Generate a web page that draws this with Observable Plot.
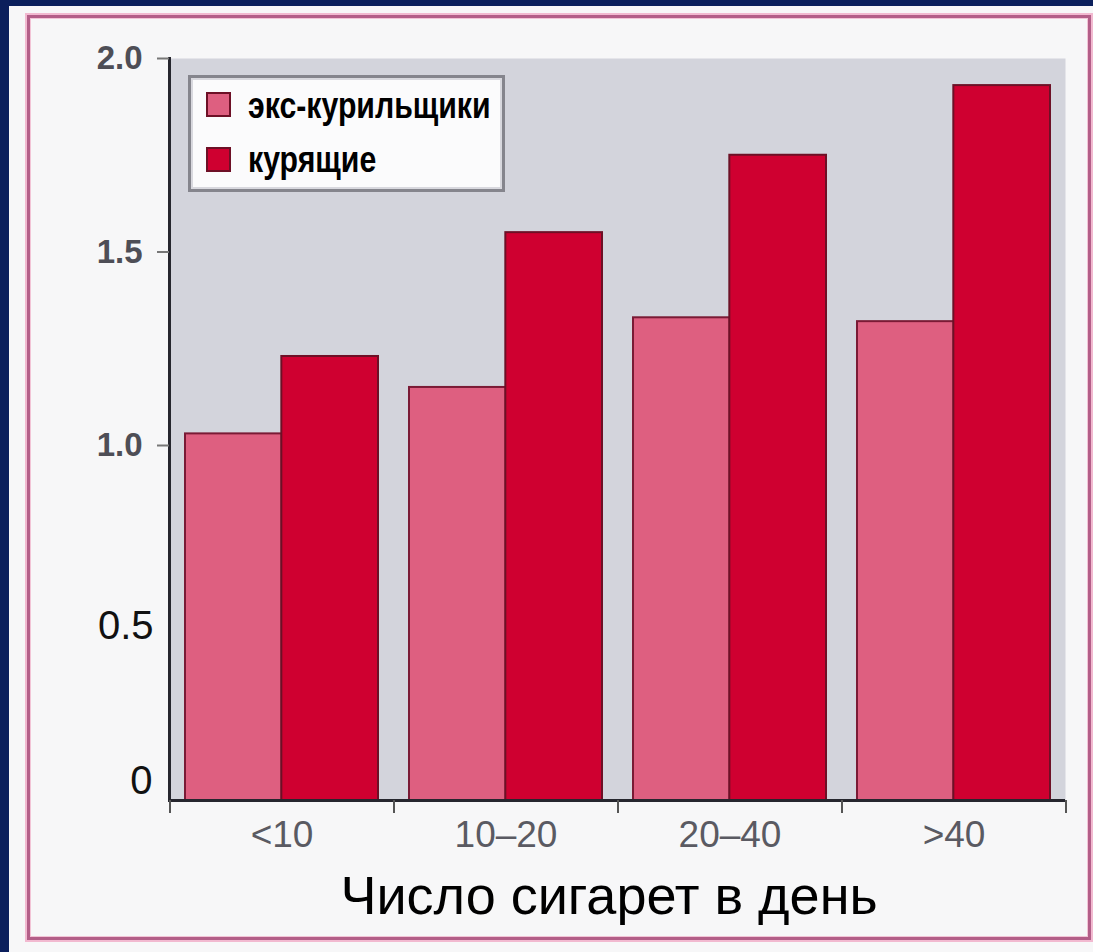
<!DOCTYPE html>
<html>
<head>
<meta charset="utf-8">
<script src="https://cdn.jsdelivr.net/npm/d3@7"></script>
<script src="https://cdn.jsdelivr.net/npm/@observablehq/plot@0.6"></script>
<style>
  html, body { margin: 0; padding: 0; }
  body { width: 1093px; height: 952px; background: #0b1f5c; position: relative; overflow: hidden; font-family: "Liberation Sans", Arial, sans-serif; }
  #panel { position: absolute; left: 9px; top: 6px; right: 0; bottom: 0; background: #f7f7f8; }
  #frame { position: absolute; left: 27px; top: 15px; width: 1058px; height: 919px; border: 3px solid #b35e88; box-shadow: 0 0 0 2px #f2b9d0, inset 0 0 0 1px #f2c4d6; }
  #chart { position: absolute; left: 0; top: 0; }
  #legend { position: absolute; left: 188px; top: 75px; width: 317px; height: 117px; box-sizing: border-box; border: 3px solid #85858d; background: #fbfbfc; box-shadow: inset 0 0 0 2px #d8d8de; }
  .sw { position: absolute; left: 15px; width: 25px; height: 25px; box-sizing: border-box; border: 2px solid #6d1026; }
  .lt { position: absolute; left: 57px; font-family: "Liberation Sans", Arial, sans-serif; font-weight: bold; font-size: 36px; line-height: 1; color: #000; white-space: nowrap; transform: scaleX(0.84); transform-origin: 0 0; }
  #title { position: absolute; left: 109px; width: 1000px; top: 868px; text-align: center; font-family: "Liberation Sans", Arial, sans-serif; font-size: 54px; line-height: 1; color: #000; }
</style>
</head>
<body>
<div id="panel"></div>
<div id="frame"></div>
<div id="chart"></div>
<div id="legend"></div>
<div id="title"></div>
<script>
// ---- data ----
const categories = ["<10", "10–20", "20–40", ">40"];
const seriesNames = ["экс-курильщики", "курящие"];
const exSmokers = [1.03, 1.15, 1.33, 1.32];
const smokers = [1.23, 1.55, 1.75, 1.93];
const yTicks = [0, 0.5, 1.0, 1.5, 2.0];
const xTitle = "Число сигарет в день";
const colors = ["#de5f80", "#cf0030"];

// ---- layout ----
const W = 1093, H = 952;
const mL = 169, mR = 28, mT = 58, mB = 152;
const padIn = 0.14, padOut = 0.07;
const step = (W - mL - mR) / (categories.length - padIn + 2 * padOut);
const bw = step * (1 - padIn);

const exData = categories.map((c, i) => ({cat: c, value: exSmokers[i]}));
const smData = categories.map((c, i) => ({cat: c, value: smokers[i]}));

const axisStroke = "#26262e";

const chart = Plot.plot({
  width: W,
  height: H,
  marginLeft: mL,
  marginRight: mR,
  marginTop: mT,
  marginBottom: mB,
  style: {background: "transparent", fontFamily: "Liberation Sans, Arial, sans-serif", overflow: "visible"},
  x: {type: "band", domain: categories, paddingInner: padIn, paddingOuter: padOut, align: 0.5, axis: null},
  y: {type: "linear", domain: [0, 1, 2], range: [H - mB, 445, mT], axis: null},
  marks: [
    Plot.frame({fill: "#d3d4dc", stroke: null}),
    Plot.barY(exData, {x: "cat", y: "value", insetRight: bw / 2, fill: colors[0], stroke: "#7a1a35", strokeWidth: 2}),
    Plot.barY(smData, {x: "cat", y: "value", insetLeft: bw / 2, fill: colors[1], stroke: "#6d1026", strokeWidth: 2}),
    Plot.ruleY([0], {stroke: axisStroke, strokeWidth: 3}),
    Plot.frame({anchor: "left", stroke: axisStroke, strokeWidth: 3}),
    // y axis: upper ticks bold grey
    Plot.axisY({ticks: yTicks.filter(v => v >= 1), tickSize: 12, tickPadding: 15, tickFormat: ".1f",
      fontSize: 33, fontWeight: "bold", fill: "#4e4e56", stroke: "#777", strokeWidth: 2, label: null}),
    // y axis: lower labels, plain black
    Plot.axisY({ticks: yTicks.filter(v => v > 0 && v < 1), tickSize: 0, tickPadding: 16, tickFormat: ".1f",
      fontSize: 40, fill: "#111", dy: 3, label: null}),
    Plot.axisY({ticks: yTicks.filter(v => v === 0), tickSize: 0, tickPadding: 17, tickFormat: d => "0",
      fontSize: 40, fill: "#111", dy: -19, label: null}),
    // x axis labels
    Plot.axisX({ticks: categories, tickSize: 0, tickPadding: 20, fontSize: 37, fill: "#5a5a62", label: null}),
    // x boundary ticks
    Plot.axisX({ticks: categories, tickSize: 13, tickFormat: () => "", dx: -step / 2, stroke: "#555", strokeWidth: 2, label: null}),
    Plot.axisX({ticks: categories.slice(-1), tickSize: 13, tickFormat: () => "", dx: step / 2, stroke: "#555", strokeWidth: 2, label: null})
  ]
});
document.getElementById("chart").appendChild(chart);

// legend
const legend = document.getElementById("legend");
seriesNames.forEach((name, i) => {
  const sw = document.createElement("div");
  sw.className = "sw";
  sw.style.top = (14 + i * 55) + "px";
  sw.style.background = colors[i];
  legend.appendChild(sw);
  const t = document.createElement("div");
  t.className = "lt";
  t.style.top = (10 + i * 54) + "px";
  t.textContent = name;
  legend.appendChild(t);
});

document.getElementById("title").textContent = xTitle;
</script>
</body>
</html>
